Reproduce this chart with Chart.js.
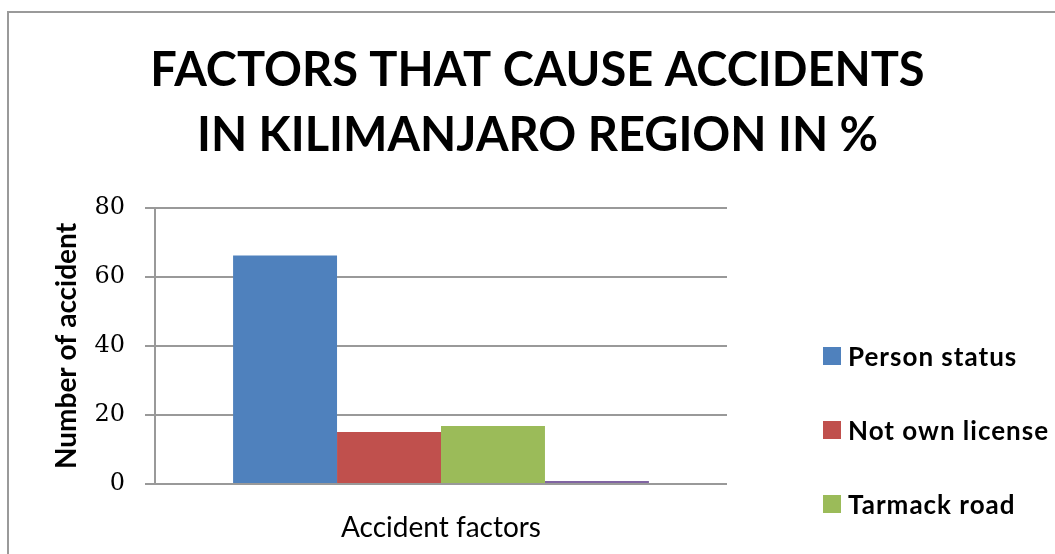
<!DOCTYPE html>
<html>
<head>
<meta charset="utf-8">
<script src="https://cdn.jsdelivr.net/npm/chart.js@4"></script>
<style>
  html, body { margin: 0; padding: 0; background: #fff; overflow: hidden; }
  #wrap { position: relative; width: 1055px; height: 554px; overflow: hidden; }
  #frame { position: absolute; left: 7px; top: 11px; width: 1200px; height: 700px;
           border-left: 2px solid #9a9a9a; border-top: 2px solid #9a9a9a; }
  #chart { position: absolute; left: 0; top: 0; }
  #legend { position: absolute; left: 823px; top: 0; font: bold 26px Lato, sans-serif;
            letter-spacing: 1px; color: #000; }
  #legend div { position: absolute; white-space: nowrap; display: flex; align-items: center; }
  #legend span.box { width: 18px; height: 18px; margin-right: 7px; }
</style>
</head>
<body>
<div id="wrap">
  <div id="frame"></div>
  <canvas id="chart" width="1055" height="554"></canvas>
  <div id="legend"></div>
</div>
<script>
// data
const categories = ['Accident factors'];
const seriesNames = ['Person status', 'Not own license', 'Tarmack road', 'Others'];
const seriesValues = [66.2, 15.1, 16.8, 0.9];
const seriesColors = ['#4F81BD', '#C0504D', '#9BBB59', '#8064A2'];
const yTicks = [0, 20, 40, 60, 80];

const gridGray = '#999999';

const datasets = seriesNames.map((name, i) => ({
  label: name,
  data: [seriesValues[i]],
  backgroundColor: seriesColors[i],
  borderWidth: 0,
  categoryPercentage: 0.727,
  barPercentage: 1.0,
}));

const chart = new Chart(document.getElementById('chart'), {
  type: 'bar',
  data: { labels: categories, datasets },
  options: {
    responsive: false,
    animation: false,
    layout: { padding: { left: 20, right: 0, top: 0, bottom: 0 } },
    plugins: {
      legend: { display: false },
      tooltip: { enabled: false },
      title: {
        display: true,
        text: ['FACTORS THAT CAUSE ACCIDENTS', 'IN KILIMANJARO REGION IN %'],
        color: '#000',
        font: { family: 'Lato', size: 47, weight: 'bold', lineHeight: 1.372 },
        padding: { top: 39, bottom: 40 },
      },
    },
    scales: {
      x: {
        afterFit: (scale) => { scale.height = 70; },
        grid: { display: false },
        border: { display: false },
        ticks: { color: '#000', padding: 19, font: { family: 'Lato', size: 28 } },
      },
      y: {
        min: 0,
        max: 80,
        afterBuildTicks: (scale) => { scale.ticks = yTicks.map(v => ({ value: v })); },
        afterFit: (scale) => { scale.width = 135; },
        grid: { color: gridGray, lineWidth: 2, tickLength: 10 },
        border: { color: gridGray, width: 2 },
        ticks: { color: '#000', padding: 20, font: { family: 'DejaVu Serif', size: 24 } },
        title: {
          display: true,
          text: 'Number of accident',
          color: '#000',
          font: { family: 'Lato', size: 28, weight: 'bold', lineHeight: 1.2 },
          padding: { top: 30, bottom: 0 },
        },
      },
      // empty box on the right that keeps the plot clear of the legend
      side: {
        position: 'right',
        afterFit: (scale) => { scale.width = 328; },
        grid: { display: false },
        border: { display: false },
        ticks: { display: false },
      },
    },
  },
});

// legend built from the datasets, spaced like the original (4th item falls off the bottom)
const legend = document.getElementById('legend');
chart.data.datasets.forEach((ds, i) => {
  const item = document.createElement('div');
  item.style.top = (356 + i * 74 - 15) + 'px';
  item.style.height = '30px';
  item.innerHTML = '<span class="box" style="background:' + ds.backgroundColor + '"></span>' + ds.label;
  legend.appendChild(item);
});
</script>
</body>
</html>
